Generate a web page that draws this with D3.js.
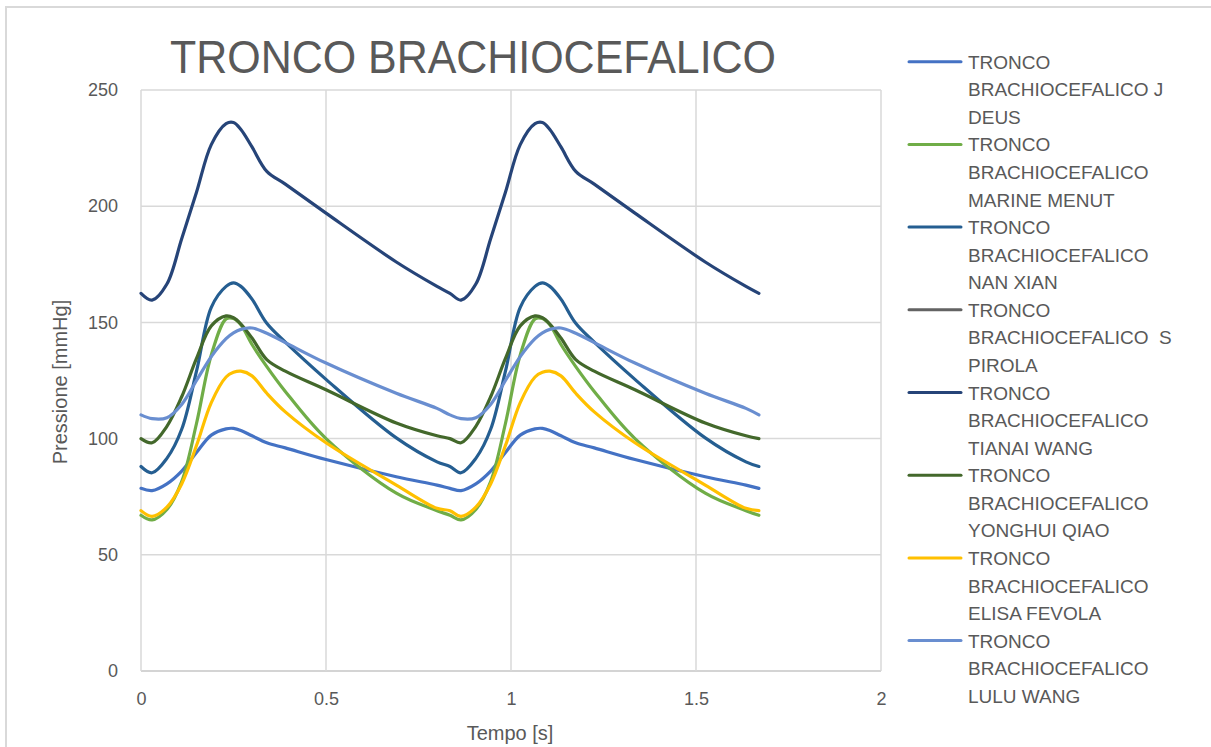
<!DOCTYPE html>
<html>
<head>
<meta charset="utf-8">
<script src="https://cdn.jsdelivr.net/npm/d3@7"></script>
<style>
  html, body { margin: 0; padding: 0; background: #ffffff; }
  svg { display: block; }
  text { font-family: "Liberation Sans", Arial, sans-serif; fill: #595959; }
</style>
</head>
<body>
<svg id="chart" width="1211" height="747"></svg>
<script>
// Time samples [s] shared by every series (two cardiac cycles)
const time = [0, 0.03, 0.07, 0.11, 0.15, 0.19, 0.23, 0.25, 0.27, 0.30, 0.34, 0.39, 0.50, 0.69, 0.80,
              0.835, 0.865, 0.905, 0.945, 0.985, 1.025, 1.065, 1.085, 1.105, 1.135, 1.175, 1.225, 1.335, 1.525, 1.635,
              1.67];

// Pressure [mmHg] per series
const jDeus = [78.6, 77.6, 80.5, 86, 94, 101.5, 104.2, 104.4, 103.5, 101.2, 98.2, 96, 91, 83.6, 80,
               78.6, 77.6, 80.5, 86, 94, 101.5, 104.2, 104.4, 103.5, 101.2, 98.2, 96, 91, 83.6, 80,
               78.6];
const marineMenut = [67, 65, 69.5, 81.5, 106.5, 136, 151.5, 151.7, 149, 140.5, 131, 120.3, 100, 76.5, 69,
                     67, 65, 69.5, 81.5, 106.5, 136, 151.5, 151.7, 149, 140.5, 131, 120.3, 100, 76.5, 69,
                     67];
const nanXian = [88, 85.3, 91.5, 104, 129, 156.5, 165.5, 167, 165.5, 160, 149.6, 141.5, 125.5, 100.3, 90,
                 88, 85.3, 91.5, 104, 129, 156.5, 165.5, 167, 165.5, 160, 149.6, 141.5, 125.5, 100.3, 90,
                 88];
const sPirola = [];
const tianaiWang = [162.5, 159.6, 166.5, 186, 206, 226.5, 235.5, 236, 233, 225.5, 215, 209.5, 197, 176, 165.5,
                    162.5, 159.6, 166.5, 186, 206, 226.5, 235.5, 236, 233, 225.5, 215, 209.5, 197, 176, 165.5,
                    162.5];
const yonghuiQiao = [100, 98.2, 105.3, 118, 134.5, 148.5, 152.8, 152, 149.3, 143.3, 134, 129, 121, 106.7, 101.2,
                     100, 98.2, 105.3, 118, 134.5, 148.5, 152.8, 152, 149.3, 143.3, 134, 129, 121, 106.7, 101.2,
                     100];
const elisaFevola = [69, 66.5, 70.5, 80.5, 97, 115.5, 126.5, 128.5, 129, 127, 119.5, 111.5, 98.2, 80, 70,
                     69, 66.5, 70.5, 80.5, 97, 115.5, 126.5, 128.5, 129, 127, 119.5, 111.5, 98.2, 80, 70,
                     69];
const luluWang = [110.2, 108.6, 109, 114.7, 125, 135.3, 143, 145.5, 147, 147.6, 145.3, 141.3, 132.5, 119.5, 113,
                  110.2, 108.6, 109, 114.7, 125, 135.3, 143, 145.5, 147, 147.6, 145.3, 141.3, 132.5, 119.5, 113,
                  110.2];

const seriesValues = [jDeus, marineMenut, nanXian, sPirola, tianaiWang, yonghuiQiao, elisaFevola, luluWang];
const seriesColors = ["#4472C4", "#70AD47", "#255E91", "#636363", "#264478", "#43682B", "#FFC000", "#698ED0"];
const legendLabels = [
  ["TRONCO", "BRACHIOCEFALICO J", "DEUS"],
  ["TRONCO", "BRACHIOCEFALICO", "MARINE MENUT"],
  ["TRONCO", "BRACHIOCEFALICO", "NAN XIAN"],
  ["TRONCO", "BRACHIOCEFALICO  S", "PIROLA"],
  ["TRONCO", "BRACHIOCEFALICO", "TIANAI WANG"],
  ["TRONCO", "BRACHIOCEFALICO", "YONGHUI QIAO"],
  ["TRONCO", "BRACHIOCEFALICO", "ELISA FEVOLA"],
  ["TRONCO", "BRACHIOCEFALICO", "LULU WANG"]
];
const xTicks = [0, 0.5, 1, 1.5, 2];
const yTicks = [0, 50, 100, 150, 200, 250];
const titleText = "TRONCO BRACHIOCEFALICO";
const xTitle = "Tempo [s]";
const yTitle = "Pressione [mmHg]";

const svg = d3.select("#chart");

// Outer chart frame
svg.append("path")
  .attr("d", "M6,747 V7 H1211")
  .attr("fill", "none")
  .attr("stroke", "#D9D9D9")
  .attr("stroke-width", 2);

const plot = { left: 141, right: 881, top: 90, bottom: 671 };
const x = d3.scaleLinear().domain([0, 2]).range([plot.left, plot.right]);
const y = d3.scaleLinear().domain([0, 250]).range([plot.bottom, plot.top]);

// Gridlines
const grid = svg.append("g");
grid.selectAll("line.h").data(yTicks).join("line")
  .attr("x1", plot.left).attr("x2", plot.right)
  .attr("y1", d => y(d)).attr("y2", d => y(d))
  .attr("stroke", d => d === 0 ? "#C6C6C6" : "#D9D9D9")
  .attr("stroke-width", 1.5);
grid.selectAll("line.v").data(xTicks).join("line")
  .attr("x1", d => x(d)).attr("x2", d => x(d))
  .attr("y1", plot.top).attr("y2", plot.bottom)
  .attr("stroke", "#D9D9D9")
  .attr("stroke-width", 1.5);

// Axes (labels only; the grid provides the lines)
const xAxis = svg.append("g")
  .attr("transform", `translate(0,${plot.bottom + 18})`)
  .call(d3.axisBottom(x).tickValues(xTicks).tickSize(0).tickFormat(d3.format("~g")));
const yAxis = svg.append("g")
  .attr("transform", `translate(${plot.left - 20},0)`)
  .call(d3.axisLeft(y).tickValues(yTicks).tickSize(0).tickFormat(d3.format("~g")));
[xAxis, yAxis].forEach(a => {
  a.select(".domain").remove();
  a.selectAll("text")
    .style("font-family", '"Liberation Sans", Arial, sans-serif')
    .style("font-size", "18px")
    .attr("fill", "#595959");
});

// Series lines (smoothed)
const line = d3.line()
  .x((d, i) => x(time[i]))
  .y(d => y(d))
  .curve(d3.curveCatmullRom.alpha(0.5));

svg.append("g").selectAll("path").data(seriesValues).join("path")
  .attr("d", d => d.length ? line(d) : null)
  .attr("fill", "none")
  .attr("stroke", (d, i) => seriesColors[i])
  .attr("stroke-width", 3.2)
  .attr("stroke-linejoin", "round")
  .attr("stroke-linecap", "round");

// Title
svg.append("text")
  .attr("x", 473).attr("y", 73)
  .attr("text-anchor", "middle")
  .attr("textLength", 606)
  .attr("lengthAdjust", "spacingAndGlyphs")
  .style("font-size", "47px")
  .text(titleText);

// Axis titles
svg.append("text")
  .attr("x", 510).attr("y", 740)
  .attr("text-anchor", "middle")
  .style("font-size", "20px")
  .text(xTitle);
svg.append("text")
  .attr("transform", "translate(67,382) rotate(-90)")
  .attr("text-anchor", "middle")
  .style("font-size", "20px")
  .text(yTitle);

// Legend
const legend = svg.append("g");
const entryGap = 82.7, rowGap = 27.6, legendTop = 61.7;
legendLabels.forEach((lines, i) => {
  const cy = legendTop + i * entryGap;
  legend.append("line")
    .attr("x1", 909).attr("x2", 961)
    .attr("y1", cy).attr("y2", cy)
    .attr("stroke", seriesColors[i])
    .attr("stroke-width", 3)
    .attr("stroke-linecap", "round");
  lines.forEach((t, j) => {
    legend.append("text")
      .attr("x", 968)
      .attr("y", cy + 7 + j * rowGap)
      .style("font-size", "19px")
      .style("white-space", "pre")
      .attr("xml:space", "preserve")
      .text(t);
  });
});
</script>
</body>
</html>
